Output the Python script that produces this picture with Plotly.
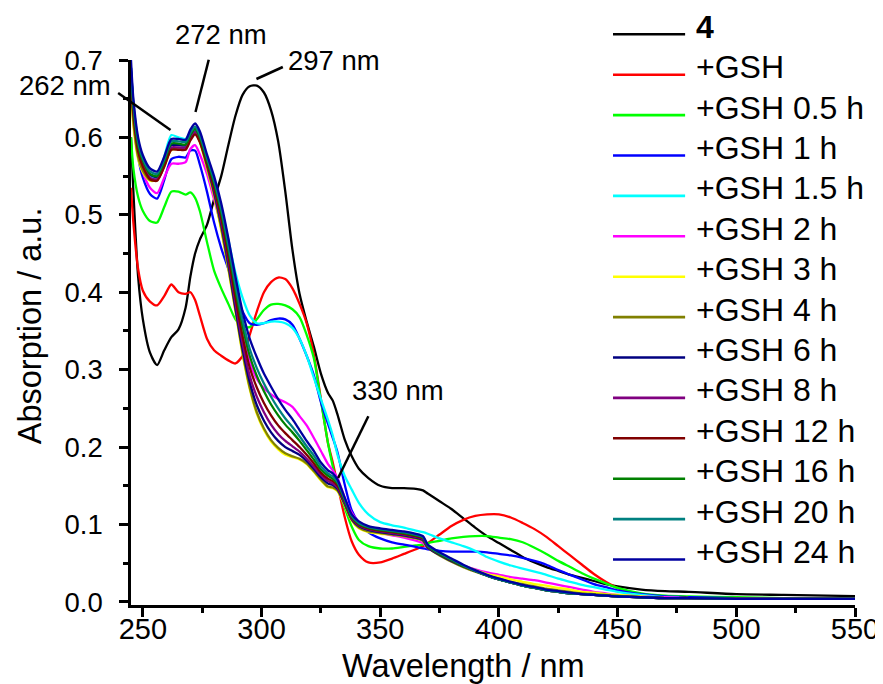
import plotly.graph_objects as go

WL = [245, 246, 248, 250, 253, 256, 259, 262, 265, 268,
      270, 272, 274, 277, 280, 283, 286, 289, 292, 295,
      298, 301, 304, 307, 310, 313, 316, 319, 322, 325,
      328, 330, 332, 335, 338, 341, 345, 350, 355, 360,
      365, 368, 370, 375, 380, 385, 390, 395, 400, 405,
      410, 415, 420, 425, 430, 435, 440, 445, 450, 460,
      470, 480, 500, 520, 550]

A_4 = [0.600, 0.530, 0.420, 0.365, 0.322, 0.306, 0.325, 0.342, 0.352, 0.380,
       0.420, 0.450, 0.468, 0.487, 0.520, 0.550, 0.590, 0.628, 0.655, 0.666,
       0.667, 0.658, 0.635, 0.595, 0.530, 0.455, 0.398, 0.362, 0.330, 0.295,
       0.270, 0.260, 0.242, 0.210, 0.188, 0.172, 0.160, 0.150, 0.147, 0.147,
       0.146, 0.144, 0.140, 0.130, 0.120, 0.108, 0.096, 0.085, 0.076, 0.067,
       0.058, 0.051, 0.045, 0.040, 0.035, 0.031, 0.027, 0.023, 0.020, 0.016,
       0.014, 0.013, 0.010, 0.009, 0.0075]

A_GSH = [0.535, 0.490, 0.430, 0.402, 0.388, 0.383, 0.395, 0.410, 0.400, 0.398,
         0.400, 0.390, 0.370, 0.340, 0.325, 0.318, 0.312, 0.308, 0.318, 0.345,
         0.375, 0.400, 0.413, 0.419, 0.417, 0.405, 0.385, 0.360, 0.320, 0.262,
         0.205, 0.180, 0.152, 0.110, 0.078, 0.061, 0.051, 0.051, 0.056, 0.062,
         0.068, 0.072, 0.076, 0.087, 0.098, 0.106, 0.111, 0.113, 0.113, 0.109,
         0.102, 0.094, 0.084, 0.072, 0.060, 0.048, 0.036, 0.026, 0.018, 0.010,
         0.007, 0.006, 0.005, 0.004, 0.004]

A_05h = [0.600, 0.560, 0.523, 0.505, 0.492, 0.490, 0.510, 0.530, 0.530, 0.526,
         0.529, 0.522, 0.505, 0.465, 0.428, 0.405, 0.385, 0.365, 0.356, 0.355,
         0.365, 0.377, 0.384, 0.385, 0.383, 0.378, 0.368, 0.345, 0.315, 0.260,
         0.205, 0.175, 0.150, 0.122, 0.097, 0.080, 0.072, 0.069, 0.069, 0.071,
         0.073, 0.074, 0.076, 0.079, 0.082, 0.084, 0.085, 0.085, 0.083, 0.081,
         0.077, 0.070, 0.062, 0.053, 0.045, 0.037, 0.030, 0.024, 0.018, 0.011,
         0.008, 0.007, 0.006, 0.005, 0.005]

A_1h = [0.690, 0.640, 0.575, 0.548, 0.527, 0.521, 0.545, 0.572, 0.575, 0.574,
        0.583, 0.583, 0.565, 0.530, 0.490, 0.457, 0.430, 0.400, 0.375, 0.360,
        0.358, 0.360, 0.364, 0.366, 0.365, 0.358, 0.340, 0.318, 0.293, 0.258,
        0.230, 0.212, 0.193, 0.152, 0.118, 0.102, 0.090, 0.082, 0.077, 0.074,
        0.071, 0.069, 0.068, 0.066, 0.065, 0.065, 0.065, 0.064, 0.062, 0.060,
        0.057, 0.053, 0.048, 0.041, 0.035, 0.029, 0.023, 0.019, 0.015, 0.010,
        0.007, 0.006, 0.005, 0.004, 0.004]

A_15h = [0.680, 0.640, 0.590, 0.568, 0.550, 0.548, 0.575, 0.603, 0.600, 0.598,
         0.606, 0.610, 0.600, 0.575, 0.545, 0.510, 0.468, 0.425, 0.393, 0.370,
         0.360, 0.360, 0.362, 0.362, 0.360, 0.354, 0.340, 0.318, 0.290, 0.262,
         0.235, 0.215, 0.190, 0.163, 0.145, 0.128, 0.113, 0.103, 0.099, 0.096,
         0.092, 0.090, 0.088, 0.082, 0.077, 0.072, 0.066, 0.058, 0.052, 0.047,
         0.043, 0.039, 0.035, 0.030, 0.026, 0.022, 0.019, 0.016, 0.013, 0.009,
         0.006, 0.005, 0.005, 0.004, 0.004]

A_2h = [0.670, 0.630, 0.580, 0.555, 0.535, 0.528, 0.548, 0.566, 0.566, 0.568,
        0.585, 0.590, 0.578, 0.553, 0.520, 0.485, 0.440, 0.390, 0.345, 0.310,
        0.288, 0.276, 0.268, 0.262, 0.258, 0.252, 0.240, 0.228, 0.212, 0.195,
        0.178, 0.170, 0.160, 0.135, 0.115, 0.103, 0.095, 0.089, 0.086, 0.083,
        0.079, 0.076, 0.070, 0.062, 0.053, 0.047, 0.042, 0.038, 0.035, 0.032,
        0.030, 0.028, 0.025, 0.022, 0.019, 0.016, 0.013, 0.011, 0.009, 0.007,
        0.006, 0.005, 0.005, 0.004, 0.004]

A_3h = [0.660, 0.615, 0.572, 0.555, 0.544, 0.545, 0.562, 0.584, 0.585, 0.585,
        0.598, 0.606, 0.594, 0.560, 0.525, 0.480, 0.430, 0.375, 0.320, 0.275,
        0.243, 0.222, 0.207, 0.197, 0.190, 0.187, 0.184, 0.178, 0.168, 0.157,
        0.148, 0.147, 0.143, 0.125, 0.105, 0.095, 0.090, 0.088, 0.087, 0.085,
        0.082, 0.079, 0.070, 0.061, 0.053, 0.047, 0.041, 0.036, 0.033, 0.029,
        0.026, 0.023, 0.021, 0.018, 0.016, 0.013, 0.012, 0.010, 0.009, 0.007,
        0.005, 0.005, 0.004, 0.004, 0.004]

A_4h = [0.665, 0.620, 0.575, 0.557, 0.545, 0.545, 0.563, 0.585, 0.586, 0.586,
        0.599, 0.607, 0.595, 0.562, 0.527, 0.483, 0.432, 0.377, 0.322, 0.277,
        0.245, 0.224, 0.209, 0.199, 0.192, 0.188, 0.185, 0.179, 0.169, 0.158,
        0.149, 0.148, 0.144, 0.126, 0.106, 0.096, 0.091, 0.089, 0.087, 0.085,
        0.082, 0.079, 0.070, 0.060, 0.052, 0.045, 0.039, 0.034, 0.030, 0.026,
        0.023, 0.020, 0.017, 0.015, 0.013, 0.011, 0.010, 0.009, 0.008, 0.006,
        0.005, 0.005, 0.004, 0.004, 0.004]

A_6h = [0.685, 0.640, 0.590, 0.569, 0.552, 0.549, 0.568, 0.590, 0.590, 0.590,
        0.603, 0.611, 0.599, 0.566, 0.530, 0.488, 0.437, 0.380, 0.327, 0.284,
        0.254, 0.234, 0.219, 0.208, 0.200, 0.195, 0.190, 0.182, 0.172, 0.161,
        0.153, 0.151, 0.146, 0.127, 0.107, 0.098, 0.093, 0.090, 0.088, 0.086,
        0.083, 0.080, 0.070, 0.061, 0.053, 0.046, 0.040, 0.034, 0.029, 0.025,
        0.021, 0.018, 0.015, 0.013, 0.011, 0.010, 0.009, 0.008, 0.007, 0.006,
        0.005, 0.005, 0.004, 0.004, 0.004]

A_8h = [0.680, 0.635, 0.585, 0.565, 0.548, 0.546, 0.565, 0.587, 0.587, 0.587,
        0.599, 0.607, 0.596, 0.566, 0.533, 0.492, 0.442, 0.386, 0.334, 0.292,
        0.265, 0.245, 0.229, 0.217, 0.208, 0.201, 0.194, 0.185, 0.175, 0.164,
        0.156, 0.153, 0.148, 0.128, 0.108, 0.099, 0.094, 0.091, 0.089, 0.087,
        0.084, 0.081, 0.071, 0.062, 0.054, 0.046, 0.040, 0.034, 0.029, 0.025,
        0.021, 0.018, 0.015, 0.013, 0.011, 0.010, 0.009, 0.008, 0.007, 0.006,
        0.005, 0.005, 0.004, 0.004, 0.004]

A_12h = [0.675, 0.630, 0.582, 0.562, 0.546, 0.544, 0.562, 0.584, 0.584, 0.584,
         0.596, 0.604, 0.594, 0.566, 0.535, 0.496, 0.447, 0.393, 0.343, 0.303,
         0.277, 0.257, 0.241, 0.228, 0.218, 0.209, 0.200, 0.190, 0.179, 0.167,
         0.159, 0.156, 0.150, 0.130, 0.109, 0.100, 0.095, 0.092, 0.090, 0.088,
         0.085, 0.082, 0.072, 0.062, 0.054, 0.046, 0.040, 0.034, 0.029, 0.025,
         0.021, 0.018, 0.015, 0.013, 0.011, 0.010, 0.009, 0.008, 0.007, 0.006,
         0.005, 0.005, 0.004, 0.004, 0.004]

A_16h = [0.685, 0.640, 0.590, 0.570, 0.553, 0.550, 0.569, 0.592, 0.592, 0.591,
         0.603, 0.611, 0.600, 0.571, 0.541, 0.503, 0.456, 0.403, 0.356, 0.318,
         0.292, 0.272, 0.255, 0.241, 0.229, 0.219, 0.208, 0.196, 0.184, 0.171,
         0.163, 0.159, 0.153, 0.131, 0.110, 0.101, 0.096, 0.093, 0.091, 0.089,
         0.086, 0.083, 0.072, 0.062, 0.054, 0.046, 0.040, 0.034, 0.029, 0.025,
         0.021, 0.018, 0.015, 0.013, 0.011, 0.010, 0.009, 0.008, 0.007, 0.006,
         0.005, 0.005, 0.004, 0.004, 0.004]

A_20h = [0.690, 0.645, 0.595, 0.573, 0.556, 0.553, 0.572, 0.595, 0.595, 0.594,
         0.606, 0.614, 0.603, 0.574, 0.545, 0.508, 0.462, 0.410, 0.364, 0.327,
         0.302, 0.282, 0.265, 0.250, 0.237, 0.226, 0.214, 0.201, 0.189, 0.175,
         0.166, 0.162, 0.155, 0.133, 0.111, 0.102, 0.097, 0.094, 0.092, 0.090,
         0.087, 0.084, 0.073, 0.063, 0.055, 0.047, 0.040, 0.034, 0.029, 0.025,
         0.021, 0.018, 0.015, 0.013, 0.011, 0.010, 0.009, 0.008, 0.007, 0.006,
         0.005, 0.005, 0.004, 0.004, 0.004]

A_24h = [0.700, 0.650, 0.600, 0.577, 0.560, 0.556, 0.575, 0.598, 0.598, 0.597,
         0.610, 0.618, 0.608, 0.578, 0.550, 0.515, 0.470, 0.420, 0.375, 0.340,
         0.316, 0.295, 0.278, 0.262, 0.248, 0.236, 0.222, 0.208, 0.195, 0.180,
         0.170, 0.166, 0.158, 0.135, 0.113, 0.104, 0.098, 0.095, 0.093, 0.091,
         0.088, 0.085, 0.074, 0.064, 0.056, 0.048, 0.041, 0.035, 0.030, 0.026,
         0.022, 0.019, 0.016, 0.014, 0.012, 0.010, 0.009, 0.008, 0.007, 0.006,
         0.005, 0.005, 0.004, 0.004, 0.004]

SERIES_NAMES = ["<b>4</b>", "+GSH", "+GSH 0.5 h", "+GSH 1 h", "+GSH 1.5 h", "+GSH 2 h",
                "+GSH 3 h", "+GSH 4 h", "+GSH 6 h", "+GSH 8 h", "+GSH 12 h",
                "+GSH 16 h", "+GSH 20 h", "+GSH 24 h"]
SERIES_VALUES = [A_4, A_GSH, A_05h, A_1h, A_15h, A_2h, A_3h, A_4h, A_6h, A_8h,
                 A_12h, A_16h, A_20h, A_24h]
COLORS = ["#000000", "#FF0000", "#00FF00", "#0000FF", "#00FFFF", "#FF00FF",
          "#FFFF00", "#808000", "#000080", "#800080", "#800000", "#008000",
          "#008080", "#0000A0"]

X_TICKS = [250, 300, 350, 400, 450, 500, 550]
Y_TICKS = [0.0, 0.1, 0.2, 0.3, 0.4, 0.5, 0.6, 0.7]

PEAK_LABELS = ["262 nm", "272 nm", "297 nm", "330 nm"]

FONT = "Arial, Liberation Sans, sans-serif"
W, H = 883, 684
PL, PR, PT, PB = 123, 856, 52, 597


def px(x):
    return (x - PL) / (PR - PL)


def py(y):
    return (PB - y) / (PB - PT)


fig = go.Figure()
for name, vals, col in zip(SERIES_NAMES, SERIES_VALUES, COLORS):
    fig.add_trace(go.Scatter(x=WL, y=vals, mode="lines", name=name,
                             line=dict(color=col, width=2.3, shape="spline", smoothing=0.7),
                             showlegend=False))

shapes = []
annotations = []

# manual legend
for i, (name, col) in enumerate(zip(SERIES_NAMES, COLORS)):
    yy = 26.3 + 40.4 * i
    shapes.append(dict(type="line", xref="paper", yref="paper",
                       x0=px(611), x1=px(684), y0=py(yy), y1=py(yy),
                       line=dict(color=col, width=2.6)))
    annotations.append(dict(text=name, xref="paper", yref="paper",
                            x=px(693), y=py(yy - 7.5), xanchor="left", yanchor="middle",
                            showarrow=False, font=dict(family=FONT, size=32, color="black")))

# peak labels
label_pos = [(56, 77.5), (214, 26.5), (328.5, 52), (393.5, 382.5)]
pointer_lines = [((110, 85), (163, 122)), ((201.7, 51.7), (188.3, 104)),
                 ((276.7, 59), (250, 71)), ((363.3, 408.3), (332.7, 470))]
for txt, (tx, ty), ((x0, y0), (x1, y1)) in zip(PEAK_LABELS, label_pos, pointer_lines):
    annotations.append(dict(text=txt, xref="paper", yref="paper", x=px(tx), y=py(ty),
                            xanchor="center", yanchor="middle", showarrow=False,
                            font=dict(family=FONT, size=27.5, color="black")))
    shapes.append(dict(type="line", xref="paper", yref="paper",
                       x0=px(x0), y0=py(y0), x1=px(x1), y1=py(y1),
                       line=dict(color="black", width=2.5)))

# axis titles
annotations.append(dict(text="Wavelength / nm", xref="paper", yref="paper",
                        x=px(459.5), y=py(658), xanchor="center", yanchor="middle",
                        showarrow=False, font=dict(family=FONT, size=32.5, color="black")))
annotations.append(dict(text="Absorption / a.u.", xref="paper", yref="paper",
                        x=px(21), y=py(318), xanchor="center", yanchor="middle",
                        textangle=-90, showarrow=False,
                        font=dict(family=FONT, size=32.5, color="black")))

fig.update_layout(
    width=W, height=H, autosize=False,
    margin=dict(l=PL, r=W - PR, t=PT, b=H - PB, pad=0),
    paper_bgcolor="white", plot_bgcolor="white",
    shapes=shapes, annotations=annotations,
    showlegend=False,
    font=dict(family=FONT, color="black"),
)
fig.update_xaxes(range=[245, 550], tickmode="array", tickvals=X_TICKS,
                 ticktext=[str(v) for v in X_TICKS],
                 showline=True, linecolor="black", linewidth=2.5, mirror=False,
                 ticks="outside", ticklen=9, tickwidth=2.5, tickcolor="black",
                 showgrid=False, zeroline=False, ticklabelstandoff=-13,
                 tickfont=dict(family=FONT, size=29, color="black"),
                 minor=dict(ticks="outside", ticklen=5, tickwidth=2.5, tickcolor="black",
                            dtick=25, tick0=250, showgrid=False))
fig.update_yaxes(range=[-0.004, 0.7], tickmode="array", tickvals=Y_TICKS,
                 ticktext=["%.1f" % v for v in Y_TICKS],
                 showline=True, linecolor="black", linewidth=2.5, mirror=False,
                 ticks="outside", ticklen=9, tickwidth=2.5, tickcolor="black",
                 showgrid=False, zeroline=False, ticklabelstandoff=11,
                 tickfont=dict(family=FONT, size=27.5, color="black"),
                 minor=dict(ticks="outside", ticklen=5, tickwidth=2.5, tickcolor="black",
                            dtick=0.05, tick0=0, showgrid=False))

fig.write_html("out.html")
